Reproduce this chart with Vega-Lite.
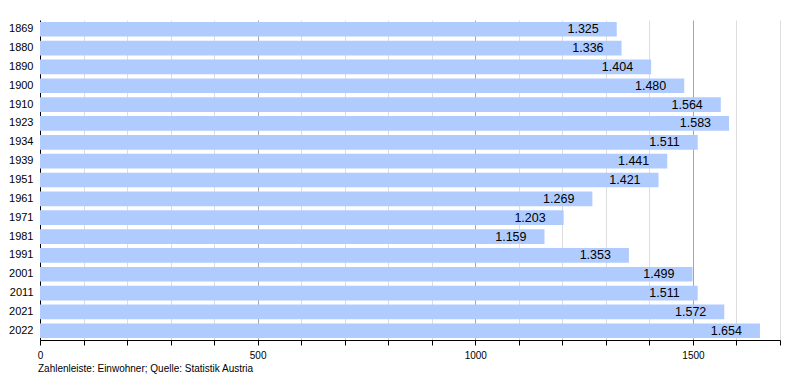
{
  "$schema": "https://vega.github.io/schema/vega-lite/v6.json",
  "width": 740,
  "height": 320,
  "autosize": "none",
  "padding": {"left": 40, "top": 20, "right": 20, "bottom": 40},
  "config": {
    "locale": {"number": {"decimal": ",", "thousands": ".", "grouping": [3], "currency": ["", " €"]}},
    "view": {"stroke": null},
    "font": "Liberation Sans"
  },
  "title": {
    "text": "Zahlenleiste: Einwohner; Quelle: Statistik Austria",
    "orient": "bottom",
    "anchor": "start",
    "frame": "group",
    "fontSize": 10,
    "fontWeight": "normal",
    "color": "#000",
    "offset": 4,
    "dx": -2
  },
  "data": {
    "values": [
      {"year": "1869", "pop": 1325},
      {"year": "1880", "pop": 1336},
      {"year": "1890", "pop": 1404},
      {"year": "1900", "pop": 1480},
      {"year": "1910", "pop": 1564},
      {"year": "1923", "pop": 1583},
      {"year": "1934", "pop": 1511},
      {"year": "1939", "pop": 1441},
      {"year": "1951", "pop": 1421},
      {"year": "1961", "pop": 1269},
      {"year": "1971", "pop": 1203},
      {"year": "1981", "pop": 1159},
      {"year": "1991", "pop": 1353},
      {"year": "2001", "pop": 1499},
      {"year": "2011", "pop": 1511},
      {"year": "2021", "pop": 1572},
      {"year": "2022", "pop": 1654}
    ]
  },
  "encoding": {
    "y": {
      "field": "year",
      "type": "ordinal",
      "sort": null,
      "scale": {"paddingInner": 0.22, "paddingOuter": 0.1},
      "axis": {
        "title": null,
        "ticks": false,
        "domainColor": "#000",
        "labelFontSize": 11,
        "labelColor": "#000",
        "labelPadding": 7,
        "grid": false
      }
    },
    "x": {
      "field": "pop",
      "type": "quantitative",
      "scale": {"domain": [0, 1700], "nice": false},
      "axis": {
        "title": null,
        "values": [0, 100, 200, 300, 400, 500, 600, 700, 800, 900, 1000, 1100, 1200, 1300, 1400, 1500, 1600, 1700],
        "labelExpr": "datum.value % 500 === 0 ? datum.value : ''",
        "labelFontSize": 10,
        "labelColor": "#000",
        "labelPadding": 5,
        "tickSize": 5,
        "tickColor": "#000",
        "domainColor": "#000",
        "grid": true,
        "gridColor": {"condition": {"test": "datum.value % 500 === 0 && datum.value > 0", "value": "#a6a6a6"}, "value": "#dddddd"},
        "gridOpacity": 1,
        "labelFlush": false
      }
    }
  },
  "layer": [
    {
      "mark": {"type": "bar", "color": "#b0ccff"}
    },
    {
      "mark": {"type": "text", "align": "right", "baseline": "middle", "dx": -18, "fontSize": 12.5, "color": "#000"},
      "encoding": {
        "text": {"field": "pop", "type": "quantitative", "format": ",d"}
      }
    }
  ]
}
